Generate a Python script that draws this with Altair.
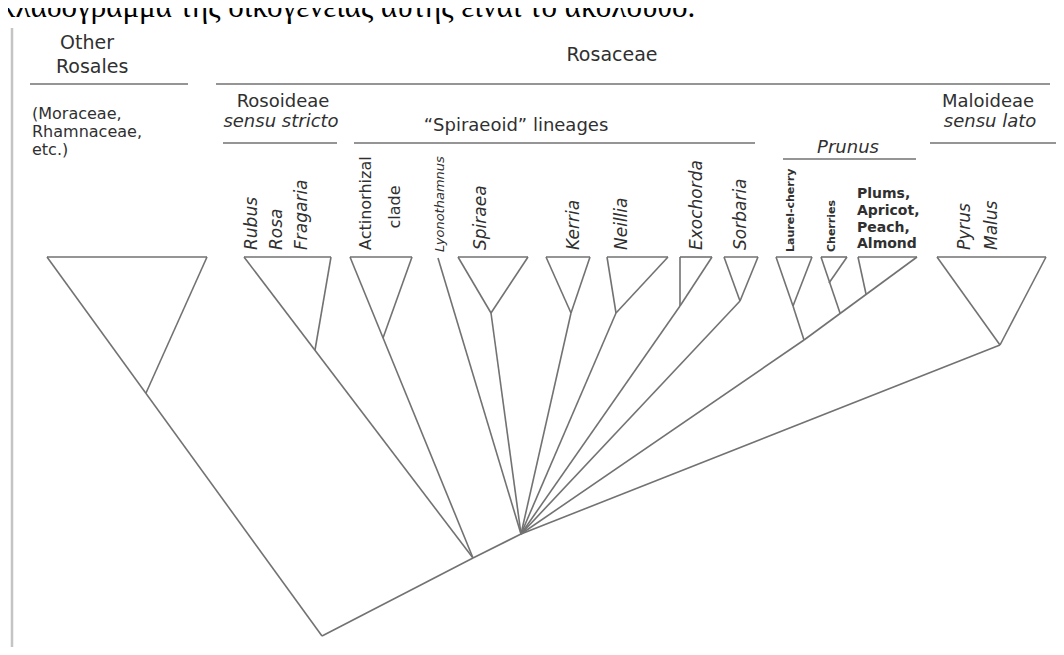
import altair as alt
import pandas as pd

# ---------------- data (pixel units) -------------
node_names = ["root", "rn", "pn",
              "OR_L", "OR_R", "OR_A",
              "RO_L", "RO_R", "RO_A",
              "AC_L", "AC_R", "AC_A",
              "LY_T",
              "SP_L", "SP_R", "SP_A",
              "KE_L", "KE_R", "KE_A",
              "NE_L", "NE_R", "NE_A",
              "EX_L", "EX_R", "EX_A",
              "SO_L", "SO_R", "SO_A",
              "LC_L", "LC_R", "LC_A", "PR",
              "CH_L", "CH_R", "CH_A", "CH_B",
              "PL_L", "PL_R", "PL_A",
              "MA_L", "MA_R", "MA_A"]
node_x = [322, 473, 521,
          47, 207, 146,
          244, 331, 315,
          350, 412, 383,
          438,
          458, 528, 491,
          546, 590, 571,
          607, 668, 616,
          680, 712, 680,
          724, 758, 740,
          776, 812, 793, 804,
          821, 847, 829, 840,
          858, 917, 866,
          937, 1046, 1000]
node_y = [636, 558, 534,
          257, 257, 393,
          257, 257, 350,
          257, 257, 338,
          258,
          257, 257, 313,
          257, 257, 313,
          257, 257, 313,
          257, 257, 306,
          257, 257, 301,
          257, 257, 306, 340,
          257, 257, 283, 313,
          257, 257, 294,
          257, 257, 345]

edge_from = ["OR_L", "OR_L", "OR_R", "root", "rn", "pn",
             "RO_L", "RO_L", "RO_R",
             "AC_L", "AC_L", "AC_R",
             "LY_T",
             "SP_L", "SP_L", "SP_R", "SP_A",
             "KE_L", "KE_L", "KE_R", "KE_A",
             "NE_L", "NE_L", "NE_R", "NE_A",
             "EX_L", "EX_L", "EX_R", "EX_A",
             "SO_L", "SO_L", "SO_R", "SO_A",
             "LC_L", "LC_L", "LC_R", "LC_A", "PR",
             "CH_L", "CH_L", "CH_R",
             "PL_L", "PL_L", "PL_R",
             "MA_L", "MA_L", "MA_R"]
edge_to = ["OR_R", "root", "OR_A", "rn", "pn", "MA_A",
           "RO_R", "rn", "RO_A",
           "AC_R", "rn", "AC_A",
           "pn",
           "SP_R", "SP_A", "SP_A", "pn",
           "KE_R", "KE_A", "KE_A", "pn",
           "NE_R", "NE_A", "NE_A", "pn",
           "EX_R", "EX_A", "EX_A", "pn",
           "SO_R", "SO_A", "SO_A", "pn",
           "LC_R", "LC_A", "LC_A", "PR", "pn",
           "CH_R", "CH_B", "CH_A",
           "PL_R", "PL_A", "PR",
           "MA_R", "MA_A", "MA_A"]

# group bars (brackets) above the clades
bar_x1 = [30, 216, 223, 354, 783, 930]
bar_x2 = [188, 1050, 337, 755, 916, 1056]
bar_y = [84, 84, 143, 143, 159, 143]

# header labels
head_left_text = ["Other", "Rosales"]
head_left_x = [60, 56]
head_left_y = [43, 67]
head_top_text = ["Rosaceae"]
head_top_x = [612]
head_top_y = [55]
head_center_text = ["Rosoideae", "\u201cSpiraeoid\u201d lineages", "Maloideae"]
head_center_x = [283, 516, 988]
head_center_y = [102, 126, 102]
head_italic_text = ["sensu stricto", "Prunus", "sensu lato"]
head_italic_x = [281, 848, 990]
head_italic_y = [122, 148, 122]
other_text = ["(Moraceae,", "Rhamnaceae,", "etc.)"]
other_x = [32, 32, 32]
other_y = [114, 132, 150]

# vertical taxon labels
tax_it_text = ["Rubus", "Rosa", "Fragaria", "Spiraea", "Kerria", "Neillia",
               "Exochorda", "Sorbaria", "Pyrus", "Malus"]
tax_it_x = [252, 277, 302, 481, 574, 622, 697, 741, 965, 992]
tax_it_y = [250] * 10
act_text = ["Actinorhizal"]
act_x = [366]
act_y = [250]
clade_text = ["clade"]
clade_x = [395]
clade_y = [207]
lyo_text = ["Lyonothamnus"]
lyo_x = [440]
lyo_y = [252]
small_text = ["Laurel-cherry", "Cherries"]
small_x = [791, 832]
small_y = [252, 252]
plum_text = ["Plums,", "Apricot,", "Peach,", "Almond"]
plum_x = [857, 857, 857, 857]
plum_y = [194, 211, 228, 244]

greek_text = ["\u03ba\u03bb\u03b1\u03b4\u03cc\u03b3\u03c1\u03b1\u03bc\u03bc\u03b1 \u03c4\u03b7\u03c2 \u03bf\u03b9\u03ba\u03bf\u03b3\u03ad\u03bd\u03b5\u03b9\u03b1\u03c2 \u03b1\u03c5\u03c4\u03ae\u03c2 \u03b5\u03af\u03bd\u03b1\u03b9 \u03c4\u03bf \u03b1\u03ba\u03cc\u03bb\u03bf\u03c5\u03b8\u03bf."]
greek_x = [0]
greek_y = [17]

border_x = [12]
border_y1 = [28]
border_y2 = [647]

# ---------------- build -------------
W, H = 1048, 639
XS = alt.Scale(domain=[8, 1056])
YS = alt.Scale(domain=[8, 647], reverse=True)

pos = dict(zip(node_names, zip(node_x, node_y)))
edges = pd.DataFrame({
    "x": [pos[a][0] for a in edge_from],
    "y": [pos[a][1] for a in edge_from],
    "x2": [pos[b][0] for b in edge_to],
    "y2": [pos[b][1] for b in edge_to],
})
bars = pd.DataFrame({"x": bar_x1, "x2": bar_x2, "y": bar_y, "y2": bar_y})
border = pd.DataFrame({"x": border_x, "x2": border_x, "y": border_y1, "y2": border_y2})

LINE = "#727272"
TXT = "#303030"
FONT = "DejaVu Sans"


def xy():
    return dict(x=alt.X("x:Q", scale=XS, axis=None),
                y=alt.Y("y:Q", scale=YS, axis=None))


def rules(df, color, width):
    return alt.Chart(df).mark_rule(color=color, strokeWidth=width).encode(
        **xy(), x2="x2:Q", y2="y2:Q")


def texts(labels, xs, ys, **kw):
    df = pd.DataFrame({"label": labels, "x": xs, "y": ys})
    props = dict(font=FONT, color=TXT, baseline="middle")
    props.update(kw)
    return alt.Chart(df).mark_text(**props).encode(**xy(), text="label:N")


layers = [
    rules(border, "#c4c4c4", 2.5),
    rules(edges, LINE, 1.6),
    rules(bars, LINE, 1.6),
    texts(head_left_text, head_left_x, head_left_y, fontSize=19, align="left"),
    texts(head_top_text, head_top_x, head_top_y, fontSize=19, align="center"),
    texts(head_center_text, head_center_x, head_center_y, fontSize=18, align="center"),
    texts(head_italic_text, head_italic_x, head_italic_y, fontSize=18, align="center",
          fontStyle="italic"),
    texts(other_text, other_x, other_y, fontSize=16, align="left"),
    texts(tax_it_text, tax_it_x, tax_it_y, fontSize=17, align="left", angle=270,
          fontStyle="italic"),
    texts(act_text, act_x, act_y, fontSize=16, align="left", angle=270),
    texts(clade_text, clade_x, clade_y, fontSize=16, align="center", angle=270),
    texts(lyo_text, lyo_x, lyo_y, fontSize=13, align="left", angle=270,
          fontStyle="italic"),
    texts(small_text, small_x, small_y, fontSize=11, align="left", angle=270,
          fontWeight="bold"),
    texts(plum_text, plum_x, plum_y, fontSize=14, align="left", fontWeight="bold"),
    texts(greek_text, greek_x, greek_y, fontSize=31, align="left",
          baseline="alphabetic", font="Liberation Serif", color="#000000"),
]

chart = alt.layer(*layers).properties(
    width=W, height=H, padding=0, autosize="none"
).configure_view(stroke=None)

chart.save("out.html", embed_options={"renderer": "svg", "actions": False})
